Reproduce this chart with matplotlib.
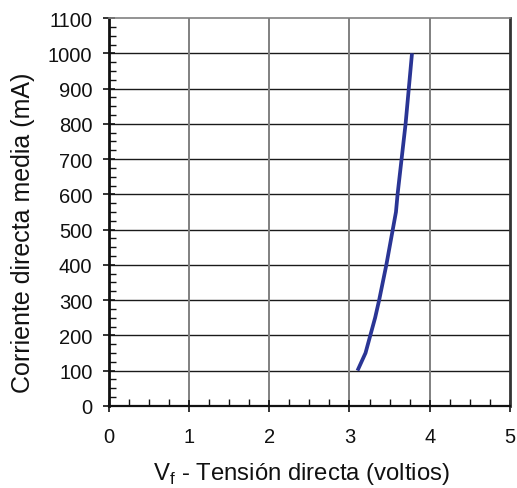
import matplotlib
matplotlib.use("Agg")
import matplotlib.pyplot as plt
from matplotlib.ticker import MultipleLocator

plt.rcParams['font.family'] = ['Liberation Sans', 'DejaVu Sans']

voltage = [3.10, 3.20, 3.26, 3.32, 3.37, 3.46, 3.54, 3.58, 3.60, 3.65, 3.70, 3.74, 3.78]
current = [100, 150, 200, 250, 300, 400, 500, 550, 600, 700, 800, 900, 1000]
x_ticks = [0, 1, 2, 3, 4, 5]
y_ticks = list(range(0, 1101, 100))

fig = plt.figure(figsize=(5.17, 4.89), dpi=100)
ax = fig.add_axes([0.211, 0.168, 0.775, 0.793])

ax.set_xlim(0, 5)
ax.set_ylim(0, 1100)
ax.set_xticks(x_ticks)
ax.set_yticks(y_ticks)
ax.xaxis.set_minor_locator(MultipleLocator(0.25))
ax.yaxis.set_minor_locator(MultipleLocator(25))

for y in y_ticks[1:-1]:
    ax.axhline(y, color='#1a1a1a', lw=1.0, zorder=1)
for x in x_ticks[1:-1]:
    ax.axvline(x, color='#808080', lw=1.4, zorder=1)

ax.plot(voltage, current, color='#2a3595', lw=2.7, zorder=3, solid_capstyle='butt')

ax.spines['left'].set_linewidth(2.0)
ax.spines['left'].set_color('#111111')
ax.spines['bottom'].set_linewidth(1.6)
ax.spines['bottom'].set_color('#111111')
ax.spines['right'].set_linewidth(2.0)
ax.spines['right'].set_color('#333333')
ax.spines['top'].set_linewidth(1.2)
ax.spines['top'].set_color('#808080')

ax.tick_params(axis='both', which='major', direction='inout', length=8, width=1.2,
               labelsize=14.5, colors='#111111')
ax.tick_params(axis='y', which='major', pad=8)
ax.tick_params(axis='x', which='major', pad=11)
ax.tick_params(axis='both', which='minor', direction='in', length=5, width=1.0, color='#111111')
ax.tick_params(top=False, right=False, which='both')

ax.set_ylabel('Corriente directa media (mA)', fontsize=18, color='#111111', labelpad=9, y=0.45)
ax.set_xlabel(r'V$_\mathregular{f}$ - Tensión directa (voltios)', fontsize=17.2, color='#111111', labelpad=10, x=0.48)

fig.savefig('out.png', dpi=100)
